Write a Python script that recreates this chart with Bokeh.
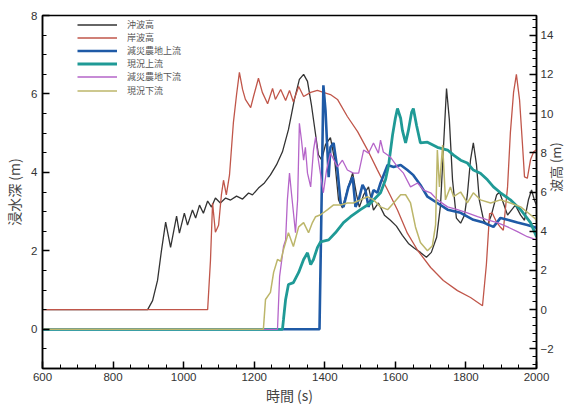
import math
from bokeh.plotting import figure
from bokeh.models import Range1d, LinearAxis, SingleIntervalTicker, Legend, LegendItem
from bokeh.embed import file_html
from bokeh.resources import INLINE

# 沖波高 (right axis, m)
t_off = [600, 898, 912, 926, 937, 949, 963, 980, 988, 1002, 1011, 1025, 1034, 1045, 1056, 1068, 1079, 1090, 1104, 1119,
         1133, 1150, 1167, 1184, 1195, 1212, 1229, 1246, 1263, 1280, 1297, 1314, 1328, 1340, 1351, 1362, 1374, 1382,
         1391, 1402, 1416, 1428, 1439, 1450, 1464, 1479, 1490, 1498, 1510, 1524, 1538, 1552, 1569, 1586, 1603, 1620,
         1637, 1654, 1671, 1688, 1702, 1717, 1728, 1736, 1745, 1753, 1762, 1773, 1785, 1796, 1804, 1813, 1821, 1830,
         1838, 1850, 1861, 1872, 1887, 1895, 1906, 1918, 1929, 1940, 1955, 1966, 1977, 1986, 1994, 2000]
h_off = [0, 0, 0.46, 1.49, 3.0, 4.46, 3.18, 4.77, 3.9, 4.92, 4.31, 5.08, 4.67, 5.33, 4.92, 5.54, 5.23, 5.69, 5.44, 5.69,
         5.59, 5.79, 5.64, 5.95, 5.85, 6.2, 6.46, 6.87, 7.38, 8.05, 9.18, 10.72, 11.74, 12.0, 11.64, 10.46, 8.92, 7.9,
         7.64, 8.41, 8.77, 7.64, 5.59, 5.18, 6.1, 6.97, 5.85, 5.23, 5.85, 6.26, 5.08, 5.44, 4.82, 4.56, 4.26, 3.79,
         3.38, 3.13, 2.92, 2.67, 2.92, 3.69, 5.33, 8.15, 11.28, 9.69, 6.62, 4.67, 4.41, 4.82, 5.85, 7.64, 8.51, 7.38,
         5.59, 4.56, 4.31, 4.82, 5.85, 6.0, 5.44, 4.82, 5.08, 5.33, 4.82, 4.56, 5.59, 6.1, 5.59, 5.33]

# 岸波高 (right axis, m)
t_shore = [600, 1068, 1076, 1082, 1090, 1099, 1107, 1113, 1121, 1130, 1141, 1150, 1158, 1167, 1175, 1190, 1198, 1212,
           1223, 1238, 1252, 1260, 1275, 1289, 1300, 1311, 1326, 1340, 1360, 1379, 1396, 1416, 1436, 1464, 1493, 1521,
           1549, 1578, 1606, 1634, 1663, 1700, 1736, 1776, 1813, 1847, 1858, 1867, 1875, 1887, 1898, 1906, 1918, 1926,
           1935, 1943, 1952, 1960, 1966, 1974, 1983, 1992, 2000]
h_shore = [0, 0, 2.5, 5.44, 3.95, 4.3, 5.85, 6.6, 5.85, 6.87, 9.54, 10.97, 12.1, 11.23, 10.72, 10.3, 10.87, 11.8,
           11.08, 10.5, 11.28, 10.72, 11.23, 10.67, 11.18, 10.6, 11.38, 10.87, 11.08, 11.18, 11.08, 10.97, 10.72, 9.85,
           9.08, 8.15, 7.13, 6.1, 5.08, 3.9, 3.03, 2.15, 1.49, 0.97, 0.62, 0.2, 2.3, 4.9, 4.92, 4.46, 4.2, 4.05, 6.26,
           9.03, 11.08, 12.0, 10.7, 8.5, 6.77, 6.7, 7.64, 8.05, 8.15]

# 減災農地上流 (left axis, m)
t_bu = [600, 1385, 1391, 1396, 1402, 1411, 1416, 1425, 1436, 1445, 1453, 1467, 1479, 1487, 1496, 1507, 1515, 1524,
        1538, 1549, 1558, 1578, 1595, 1615, 1634, 1651, 1671, 1691, 1719, 1748, 1785, 1821, 1850, 1878, 1898, 1918,
        1946, 1974, 2000]
d_bu = [0, 0, 3.3, 6.22, 5.58, 3.88, 4.64, 4.75, 4.06, 3.22, 3.12, 3.63, 3.88, 3.12, 3.3, 3.68, 3.55, 3.12,
        3.55, 3.48, 3.73, 4.19, 4.14, 4.19, 4.06, 3.93, 3.68, 3.38, 3.22, 3.05, 2.97, 2.79, 2.72, 2.61, 2.84, 2.79,
        2.72, 2.66, 2.59]

# 現況上流 (left axis, m)
t_cu = [600, 1280, 1283, 1289, 1297, 1311, 1326, 1340, 1351, 1360, 1368, 1379, 1388, 1411, 1430, 1453, 1473, 1501,
        1530, 1558, 1572, 1581, 1592, 1600, 1606, 1615, 1620, 1629, 1637, 1646, 1651, 1660, 1671, 1691, 1719, 1748,
        1765, 1785, 1804, 1821, 1841, 1861, 1878, 1898, 1926, 1955, 1983, 2000]
d_cu = [0, 0, 0.25, 0.76, 1.14, 1.19, 1.45, 1.78, 1.95, 1.65, 1.78, 2.08, 2.23, 2.28, 2.46, 2.72, 2.87, 3.05,
        3.22, 3.48, 3.81, 4.19, 4.95, 5.38, 5.63, 5.38, 5.07, 4.75, 5.07, 5.53, 5.63, 5.2, 4.75, 4.77, 4.64, 4.57,
        4.44, 4.31, 4.24, 4.06, 3.98, 3.81, 3.63, 3.48, 3.3, 3.05, 2.72, 2.36]

# 減災農地下流 (left axis, m)
t_bd = [600, 1266, 1272, 1283, 1289, 1294, 1300, 1306, 1317, 1323, 1328, 1334, 1340, 1345, 1351, 1360, 1368, 1374,
        1382, 1396, 1405, 1416, 1436, 1450, 1464, 1481, 1496, 1510, 1524, 1538, 1552, 1558, 1566, 1586, 1606, 1623,
        1643, 1663, 1680, 1700, 1719, 1748, 1776, 1804, 1833, 1861, 1889, 1918, 1946, 1974, 2000]
d_bd = [0, 0, 1.35, 2.11, 2.28, 3.3, 3.98, 3.43, 2.46, 3.3, 5.25, 4.82, 4.31, 4.64, 3.98, 3.63, 4.57, 4.9,
        4.31, 3.48, 4.06, 4.49, 4.14, 4.31, 4.06, 3.98, 3.98, 4.57, 4.49, 4.75, 4.49, 4.82, 4.52, 4.39, 4.14, 3.98,
        3.63, 3.73, 3.55, 3.48, 3.3, 3.12, 3.05, 2.97, 2.87, 2.79, 2.72, 2.61, 2.49, 2.36, 2.28]

# 現況下流 (left axis, m)
t_cd = [600, 1226, 1232, 1246, 1255, 1266, 1275, 1283, 1297, 1311, 1326, 1340, 1354, 1365, 1374, 1388, 1408, 1425,
        1445, 1464, 1481, 1501, 1521, 1538, 1558, 1578, 1595, 1615, 1629, 1643, 1657, 1671, 1691, 1705, 1714, 1719,
        1725, 1734, 1742, 1756, 1765, 1785, 1804, 1821, 1841, 1870, 1898, 1926, 1955, 1983, 2000]
d_cd = [0, 0, 0.76, 0.94, 1.45, 1.78, 1.73, 2.03, 2.46, 2.11, 2.61, 2.72, 2.46, 2.72, 2.87, 2.92, 3.05, 3.17,
        3.17, 3.22, 3.22, 3.3, 3.38, 3.3, 3.12, 3.05, 3.22, 3.43, 3.43, 3.22, 2.61, 2.21, 2.0, 2.13, 2.66, 4.57,
        3.63, 4.7, 3.3, 3.63, 3.38, 3.5, 3.22, 3.48, 3.3, 3.22, 3.3, 3.22, 3.12, 2.92, 2.79]

labels = ["沖波高", "岸波高", "減災農地上流", "現況上流", "減災農地下流", "現況下流"]

CJK = "Noto Sans CJK JP"
LAT = "Liberation Sans"

p = figure(width=577, height=408, output_backend="svg", toolbar_location=None,
           x_range=Range1d(600, 2000), y_range=Range1d(-1, 8),
           min_border_left=42, min_border_right=41, min_border_top=15, min_border_bottom=40)
p.extra_y_ranges = {"wave": Range1d(-3, 15)}
p.grid.visible = False
p.outline_line_color = "black"
p.outline_line_width = 1.5
p.background_fill_color = "white"
p.border_fill_color = "white"

r_off = p.line(t_off, h_off, y_range_name="wave", line_color="#333333", line_width=1.3)
r_shore = p.line(t_shore, h_shore, y_range_name="wave", line_color="#c0564a", line_width=1.3)
r_bu = p.line(t_bu, d_bu, line_color="#1f5aa6", line_width=2.6)
r_cu = p.line(t_cu, d_cu, line_color="#1f9a96", line_width=2.8)
r_bd = p.line(t_bd, d_bd, line_color="#b565c9", line_width=1.3)
r_cd = p.line(t_cd, d_cd, line_color="#bcb66a", line_width=1.5)

# axes
p.xaxis.ticker = SingleIntervalTicker(interval=200, num_minor_ticks=4)
p.yaxis.ticker = SingleIntervalTicker(interval=2, num_minor_ticks=4)
right = LinearAxis(y_range_name="wave", ticker=SingleIntervalTicker(interval=2, num_minor_ticks=5))
p.add_layout(right, "right")

p.xaxis.axis_label = "時間 (s)"
p.yaxis[0].axis_label = "浸水深 (m)"
right.axis_label = "波高 (m)"

for ax in [p.xaxis[0], p.yaxis[0], right]:
    ax.axis_line_color = "black"
    ax.axis_line_width = 1.5
    ax.major_tick_in = 7
    ax.major_tick_out = 0
    ax.minor_tick_in = 4
    ax.minor_tick_out = 0
    ax.major_tick_line_color = "black"
    ax.minor_tick_line_color = "black"
    ax.major_tick_line_width = 1.5
    ax.minor_tick_line_width = 1
    ax.major_label_text_font = LAT
    ax.major_label_text_font_size = "11.5px"
    ax.major_label_text_color = "#333333"
    ax.axis_label_text_font = CJK
    ax.axis_label_text_font_size = "14px"
    ax.axis_label_text_font_style = "normal"
    ax.axis_label_text_color = "#444444"
    ax.major_label_standoff = 5
    ax.axis_label_standoff = 4

p.xaxis[0].major_label_standoff = 4
p.xaxis[0].axis_label_standoff = 1
right.major_label_standoff = 4
right.axis_label_standoff = -1
right.axis_label_text_font_size = "13px"
try:
    right.axis_label_orientation = math.pi / 2
except Exception:
    pass

# one single-row legend per series, stacked at ~13 px pitch
renderers = [r_off, r_shore, r_bu, r_cu, r_bd, r_cd]
row_centers = [23.5, 36.7, 49.9, 63.1, 76.3, 89.5]
for lab, rend, c in zip(labels, renderers, row_centers):
    lg = Legend(items=[LegendItem(label=lab, renderers=[rend])], location=(35, 361 - c))
    lg.border_line_alpha = 0
    lg.background_fill_alpha = 0
    lg.label_text_font = CJK
    lg.label_text_font_size = "9px"
    lg.label_text_color = "#555555"
    lg.glyph_width = 40
    lg.glyph_height = 13
    lg.label_height = 13
    lg.label_standoff = 10
    lg.spacing = 0
    lg.padding = 0
    lg.margin = 0
    p.add_layout(lg)

open("out.html", "w").write(file_html(p, INLINE))
